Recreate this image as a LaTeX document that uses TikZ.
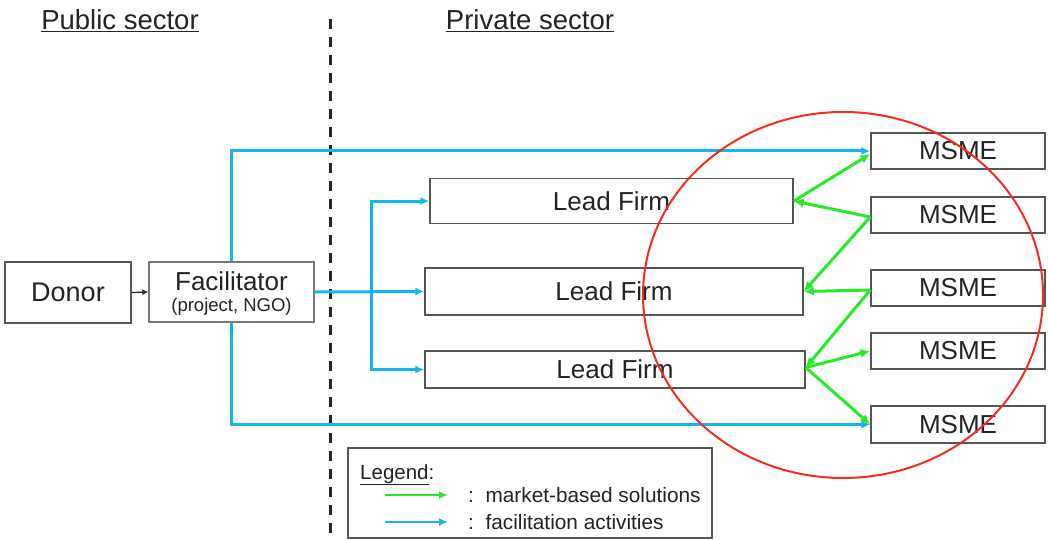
\documentclass[tikz,border=0pt]{standalone}
\usepackage{fontspec}
\setmainfont{Liberation Sans}
\usetikzlibrary{arrows.meta,calc}
\definecolor{fblue}{RGB}{20,180,240}
\definecolor{fgreen}{RGB}{40,235,40}
\definecolor{fred}{RGB}{245,45,30}
\definecolor{boxgray}{RGB}{85,85,85}
\definecolor{txt}{RGB}{35,35,35}
\begin{document}
\begin{tikzpicture}[x=1pt,y=-1pt,
  box/.style={draw=boxgray, line width=1.4pt, fill=white, inner sep=0pt, text=txt,
    font=\fontsize{26}{30}\selectfont},
  lbl/.style={inner sep=0pt, text=txt},
  facil/.style={draw=fblue, line width=3pt, -{Latex[length=9pt,width=8pt]}},
  mkt/.style={draw=fgreen, line width=3pt, -{Latex[length=10pt,width=9pt]}},
]
\useasboundingbox (0,0) rectangle (1048,540);
\fill[white] (0,0) rectangle (1048,540);

% headers
\node[lbl, anchor=base, font=\fontsize{27.5}{30}\selectfont] (pub) at (120,30) {\underline{Public sector}};
\node[lbl, anchor=base, font=\fontsize{27.5}{30}\selectfont] (priv) at (530,30) {\underline{Private sector}};

% dashed divider
\coordinate (dtop) at (330,19);
\coordinate (dbot) at (330,538);
\draw[draw=black!85, line width=3pt, dash pattern=on 10pt off 8pt] (dtop) -- (dbot);

% nodes
\node[box, minimum width=126pt, minimum height=61pt, font=\fontsize{27}{30}\selectfont] (donor) at (68,292.5) {Donor};
\node[box, draw=boxgray!80, minimum width=165pt, minimum height=60pt] (fac) at (231.5,292) {};
\node[lbl, anchor=base, font=\fontsize{26}{30}\selectfont] (facT) at (231.5,290) {Facilitator};
\node[lbl, anchor=base, font=\fontsize{18.5}{20}\selectfont] (facS) at (231.5,311) {(project, NGO)};

\node[box, minimum width=363pt, minimum height=45pt] (lf1) at (611.5,201) {Lead Firm};
\node[box, minimum width=378pt, minimum height=47pt] (lf2) at (614,291.5) {Lead Firm};
\node[box, minimum width=380pt, minimum height=37pt] (lf3) at (615,369.5) {Lead Firm};

\node[box, minimum width=174pt, minimum height=36pt] (m1) at (958,151) {MSME};
\node[box, minimum width=174pt, minimum height=36pt] (m2) at (958,215) {MSME};
\node[box, minimum width=174pt, minimum height=36pt] (m3) at (958,288) {MSME};
\node[box, minimum width=174pt, minimum height=36pt] (m4) at (958,351) {MSME};
\node[box, minimum width=174pt, minimum height=37pt] (m5) at (958,424.5) {MSME};

% donor -> facilitator
\draw[draw=black!85, line width=1.2pt, -{Latex[length=6pt,width=6pt]}] (donor.east) -- (fac.west);

% facilitation activities
\draw[facil] (fac.north) |- (m1.west);
\draw[facil] (fac.south) |- (m5.west);
\draw[facil] (fac.east) -- (lf2.west);
\coordinate (br) at (371,291.5);
\draw[facil] (br) |- (lf1.west);
\draw[facil] (br) |- (lf3.west);

% market-based solutions
\draw[mkt] (lf1.east) -- ($(m1.west)+(0,3)$);
\draw[mkt] ($(m2.west)+(0,2)$) -- (lf1.east);
\draw[mkt] ($(m2.west)+(0,2)$) -- (lf2.east);
\draw[mkt] ($(m3.west)+(0,2)$) -- (lf2.east);
\draw[mkt] ($(m3.west)+(0,2)$) -- ($(lf3.east)+(0,-2)$);
\draw[mkt] ($(lf3.east)+(0,-2)$) -- (m4.west);
\draw[mkt] ($(lf3.east)+(0,-2)$) -- (m5.west);

% red ellipse
\draw[draw=fred, line width=2pt] (843,295) ellipse [x radius=200, y radius=183];

% legend
\node[draw=boxgray, line width=1.4pt, inner sep=0pt, minimum width=364pt, minimum height=90pt] (legend) at (530,493) {};
\node[lbl, anchor=base west, font=\fontsize{20.5}{24}\selectfont] (legT) at (360,479) {\underline{Legend}:};
\coordinate (g1) at (385,495);
\coordinate (g2) at (448,495);
\coordinate (b1) at (385,522);
\coordinate (b2) at (448,522);
\draw[mkt, line width=2.5pt, -{Latex[length=9pt,width=8pt]}] (g1) -- (g2);
\draw[facil, line width=2.5pt, -{Latex[length=9pt,width=8pt]}] (b1) -- (b2);
\node[lbl, anchor=base west, font=\fontsize{20.8}{24}\selectfont] (legA) at (468,502) {:\ \ market-based solutions};
\node[lbl, anchor=base west, font=\fontsize{20.8}{24}\selectfont] (legB) at (468,529) {:\ \ facilitation activities};
\end{tikzpicture}
\end{document}
